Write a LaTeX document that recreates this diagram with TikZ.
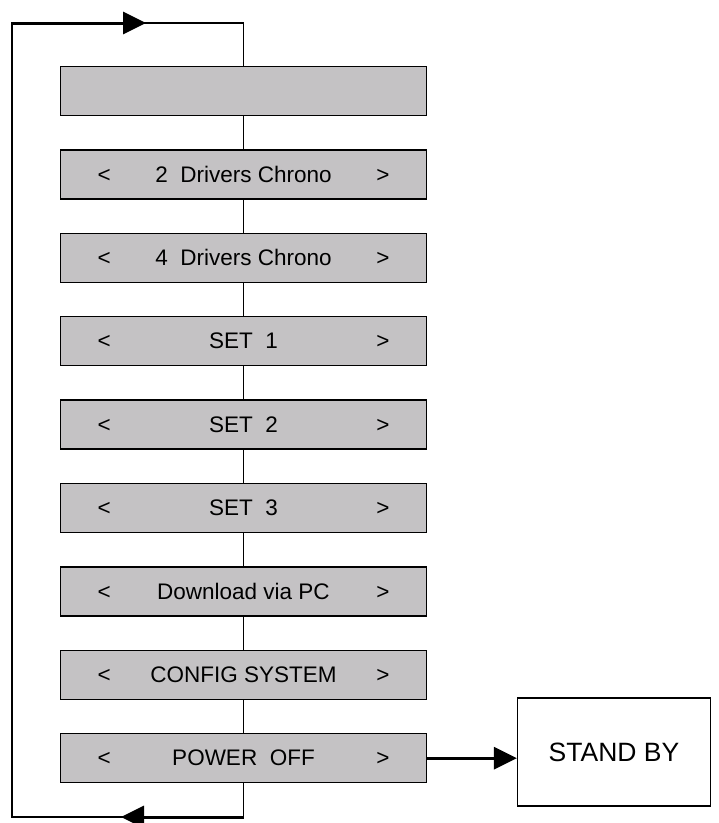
\documentclass[tikz,border=0pt]{standalone}
\usepackage{fontspec}
\setmainfont{Liberation Sans}
\usetikzlibrary{positioning,arrows.meta}

\definecolor{menugray}{RGB}{196,194,196}

\tikzset{
  menubox/.style={draw, line width=1.4pt, fill=menugray, minimum width=366pt,
    minimum height=49pt, inner sep=0pt, font=\fontsize{22.5}{26}\selectfont},
  standbox/.style={draw, line width=1.2pt, fill=white, minimum width=193pt,
    minimum height=108pt, inner sep=0pt, font=\fontsize{26.5}{31}\selectfont},
  wire/.style={line width=1.1pt},
  flow/.style={line width=3pt, -{Triangle[length=23pt,width=22pt]}},
}

\newcommand{\menuline}[1]{\makebox[292pt]{<\hfill #1\hfill >}}

\begin{document}
\begin{tikzpicture}[x=1pt,y=-1pt, node distance=33pt]
  \useasboundingbox (0,0) rectangle (719,823);

  \node[menubox] (m1) at (243.5,91) {};
  \node[menubox, below=of m1] (m2) {\menuline{2\ \ Drivers Chrono}};
  \node[menubox, below=of m2] (m3) {\menuline{4\ \ Drivers Chrono}};
  \node[menubox, below=of m3] (m4) {\menuline{SET\ \ 1}};
  \node[menubox, below=of m4] (m5) {\menuline{SET\ \ 2}};
  \node[menubox, below=of m5] (m6) {\menuline{SET\ \ 3}};
  \node[menubox, below=of m6] (m7) {\menuline{Download via PC}};
  \node[menubox, below=of m7] (m8) {\menuline{CONFIG SYSTEM}};
  \node[menubox, below=of m8] (m9) {\menuline{POWER\ \ OFF}};

  \node[standbox] (sb) at (614,752) {STAND BY};

  \foreach \a/\b in {m1/m2, m2/m3, m3/m4, m4/m5, m5/m6, m6/m7, m7/m8, m8/m9}
    \draw[wire] (\a.south) -- (\b.north);

  % loop back to the top
  \coordinate (tl) at (12,23);
  \coordinate (bl) at (12,817);
  \coordinate (tr) at (m1.north |- tl);
  \coordinate (br) at (m9.south |- bl);
  \coordinate (ta) at (146,23);
  \coordinate (ba) at (121,817);
  \draw[wire] (m9.south) -- (br) -- (bl) -- (tl) -- (tr) -- (m1.north);
  \draw[flow] (tl) -- (ta);
  \draw[flow] (br) -- (ba);

  \draw[flow] (m9.east) -- (m9.east -| sb.west);
\end{tikzpicture}
\end{document}
